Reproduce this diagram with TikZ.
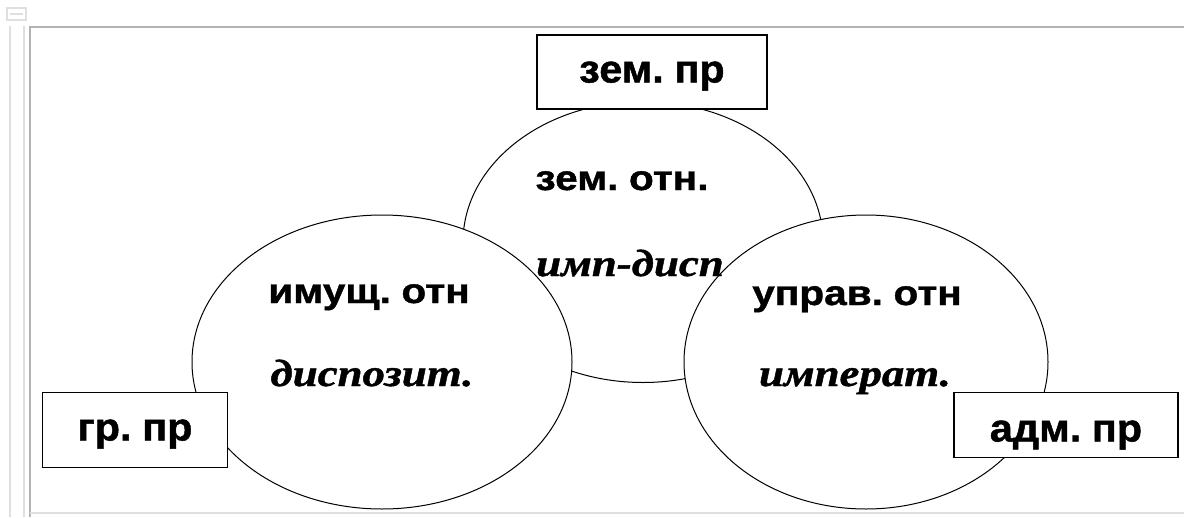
\documentclass[tikz,border=0pt]{standalone}
\usepackage{fontspec}
\setmainfont{Liberation Sans}
\newfontfamily\boxfont{Liberation Sans Bold}[FakeBold=1.2, FakeStretch=1.06, WordSpace=0.6]
\newfontfamily\relfont{Liberation Sans Bold}[FakeBold=1.2, FakeStretch=1.16, WordSpace=0.6]
\newfontfamily\kindfont{Liberation Serif Bold Italic}[FakeBold=1.2, FakeStretch=1.18]
\usetikzlibrary{shapes.geometric}

\begin{document}
\begin{tikzpicture}[
    x=1pt, y=-1pt,
    zone/.style={
        ellipse,
        draw=black,
        line width=1pt,
        fill=white,
        inner sep=0pt
    },
    lawbox/.style={
        rectangle,
        draw=black,
        line width=1.6pt,
        fill=white,
        inner sep=0pt,
        text centered,
        text height=21pt,
        text depth=0pt,
        font=\boxfont\fontsize{39}{40}\selectfont
    },
    rel/.style={
        anchor=base,
        inner sep=0pt,
        font=\relfont\fontsize{35}{38}\selectfont
    },
    kind/.style={
        anchor=base,
        inner sep=0pt,
        font=\kindfont\fontsize{38}{40}\selectfont
    },
    frameline/.style={draw=gray!60, line width=1.5pt},
    paneline/.style={draw=gray!25, line width=1.2pt}
]

\useasboundingbox (0,0) rectangle (1184,517);

% === PAGE FRAME ===
\draw [paneline] (7,8) rectangle (26,20);
\draw [paneline] (10,14) -- (23,14);
\draw [paneline] (10,26) -- (10,517);
\draw [paneline] (24,26) -- (24,517);
\draw [frameline] (30,517) -- (30,27) -- (1184,27);
\draw [paneline] (30,513) -- (1184,513);

% === RELATIONS ===
\node (zem) [zone, minimum width=360pt, minimum height=281pt] at (643,242) {};
\node (imush) [zone, minimum width=380pt, minimum height=294pt] at (382,362) {};
\node (uprav) [zone, minimum width=364pt, minimum height=294pt] at (866,362) {};

% === BRANCHES OF LAW ===
\node (zemPr) [lawbox, minimum width=230pt, minimum height=74pt] at (652,72) {зем. пр};
\node (grPr) [lawbox, minimum width=185pt, minimum height=75pt] at (135,430) {гр. пр};
\node (admPr) [lawbox, minimum width=224pt, minimum height=65pt, text height=33pt] at (1066,425) {адм. пр};

% === LABELS ===
\node (zemRel) [rel] at (622,190) {зем. отн.};
\node (zemKind) [kind] at (630,276) {имп-дисп};
\node (imushRel) [rel] at (369,303) {имущ. отн};
\node (imushKind) [kind] at (372,386) {диспозит.};
\node (upravRel) [rel] at (857,305) {управ. отн};
\node (upravKind) [kind] at (855,386) {императ.};

\end{tikzpicture}
\end{document}
